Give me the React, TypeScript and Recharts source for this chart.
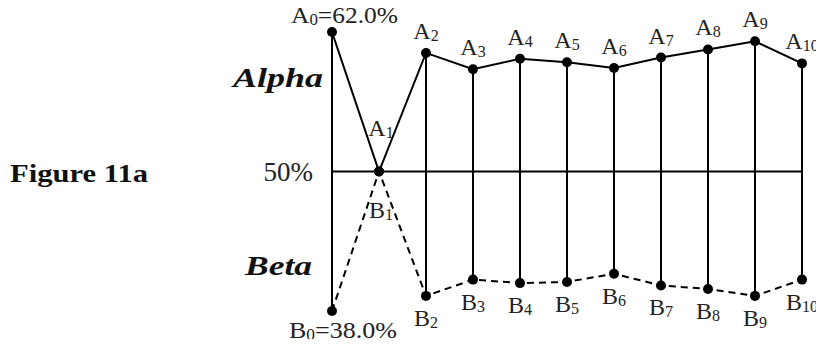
import React from "react";
import {
  ComposedChart,
  Line,
  XAxis,
  YAxis,
  ReferenceLine,
  LabelList,
} from "recharts";

const categories = ["0", "1", "2", "3", "4", "5", "6", "7", "8", "9", "10"];
const alphaValues = [62.0, 50.0, 60.2, 58.8, 59.7, 59.4, 58.9, 59.8, 60.5, 61.2, 59.3];
const betaValues = [38.0, 50.0, 39.3, 40.7, 40.4, 40.5, 41.2, 40.2, 39.9, 39.3, 40.7];
const seriesNames = ["Alpha", "Beta"];
const seriesPrefixes = ["A", "B"];
const tickLabels = ["50%"];
const midValue = 50;
const title = "Figure 11a";

const data = categories.map((c, i) => ({
  idx: i,
  cat: c,
  a: alphaValues[i],
  b: betaValues[i],
}));

const FONT = "'Liberation Serif', 'Times New Roman', serif";
const TXT = "#222";

const SubLabel = (
  prefix: string,
  sub: string,
  x: number,
  y: number,
  anchor: "start" | "middle" | "end",
  suffix?: string,
  len?: number
) => (
  <text
    x={x}
    y={y}
    textAnchor={anchor}
    fontFamily={FONT}
    fontSize={24}
    fill={TXT}
    {...(len ? { textLength: len, lengthAdjust: "spacingAndGlyphs" } : {})}
  >
    <tspan>{prefix}</tspan>
    <tspan fontSize={16} dy={2}>
      {sub}
    </tspan>
    {suffix ? <tspan dy={-2}>{suffix}</tspan> : null}
  </text>
);

const renderA = (props: any) => {
  const { x, y, index, value } = props;
  const sub = categories[index];
  if (index === 0) {
    return SubLabel(seriesPrefixes[0], sub, x - 41, y - 9, "start", `=${Number(value).toFixed(1)}%`, 107);
  }
  if (index === 1) {
    return SubLabel(seriesPrefixes[0], sub, x + 2, y - 36, "middle");
  }
  return SubLabel(seriesPrefixes[0], sub, x, y - 14, "middle");
};

const renderB = (props: any) => {
  const { x, y, index, value } = props;
  const sub = categories[index];
  if (index === 0) {
    return SubLabel(seriesPrefixes[1], sub, x - 43, y + 27, "start", `=${Number(value).toFixed(1)}%`, 108);
  }
  if (index === 1) {
    return SubLabel(seriesPrefixes[1], sub, x + 2, y + 46, "middle");
  }
  return SubLabel(seriesPrefixes[1], sub, x, y + 30, "middle");
};

const renderMidLabel = (props: any) => {
  const vb = props.viewBox || {};
  return (
    <text
      x={vb.x - 19}
      y={vb.y + 9}
      textAnchor="end"
      fontFamily={FONT}
      fontSize={27}
      fill={TXT}
    >
      {tickLabels[0]}
    </text>
  );
};

export default function App() {
  return (
    <div
      style={{
        position: "relative",
        width: 824,
        height: 347,
        marginTop: -8,
        marginLeft: -8,
        marginBottom: -8,
      }}
    >
      <ComposedChart
        width={824}
        height={347}
        data={data}
        margin={{ top: 32, right: 22, bottom: 36, left: 332 }}
      >
        <XAxis dataKey="idx" type="number" domain={[0, 10]} hide />
        <YAxis type="number" domain={[38, 62]} hide />
        <ReferenceLine
          y={midValue}
          stroke="#000"
          strokeWidth={2}
          ifOverflow="visible"
          label={renderMidLabel}
        />
        {data
          .filter((d) => d.a !== d.b)
          .map((d) => (
            <ReferenceLine
              key={`v${d.idx}`}
              segment={[
                { x: d.idx, y: d.a },
                { x: d.idx, y: d.b },
              ]}
              stroke="#000"
              strokeWidth={2}
              ifOverflow="visible"
            />
          ))}
        <Line
          dataKey="b"
          name={seriesNames[1]}
          stroke="#000"
          strokeWidth={2}
          strokeDasharray="7 5"
          dot={{ r: 5, fill: "#000", stroke: "#000", strokeWidth: 0, strokeDasharray: "" }}
          isAnimationActive={false}
        >
          <LabelList dataKey="b" content={renderB} />
        </Line>
        <Line
          dataKey="a"
          name={seriesNames[0]}
          stroke="#000"
          strokeWidth={2}
          dot={{ r: 5, fill: "#000", stroke: "#000", strokeWidth: 0 }}
          isAnimationActive={false}
        >
          <LabelList dataKey="a" content={renderA} />
        </Line>
      </ComposedChart>
      <svg
        width={824}
        height={347}
        style={{ position: "absolute", left: 0, top: 0, pointerEvents: "none" }}
      >
        <text
          x={10}
          y={182}
          fontFamily={FONT}
          fontSize={25}
          fontWeight="bold"
          fill="#111"
          textLength={138}
          lengthAdjust="spacingAndGlyphs"
        >
          {title}
        </text>
        <text
          x={233}
          y={87}
          fontFamily={FONT}
          fontSize={28}
          fontWeight="bold"
          fontStyle="italic"
          fill="#111"
          textLength={90}
          lengthAdjust="spacingAndGlyphs"
        >
          {seriesNames[0]}
        </text>
        <text
          x={245}
          y={275}
          fontFamily={FONT}
          fontSize={27}
          fontWeight="bold"
          fontStyle="italic"
          fill="#111"
          textLength={67}
          lengthAdjust="spacingAndGlyphs"
        >
          {seriesNames[1]}
        </text>
      </svg>
    </div>
  );
}
